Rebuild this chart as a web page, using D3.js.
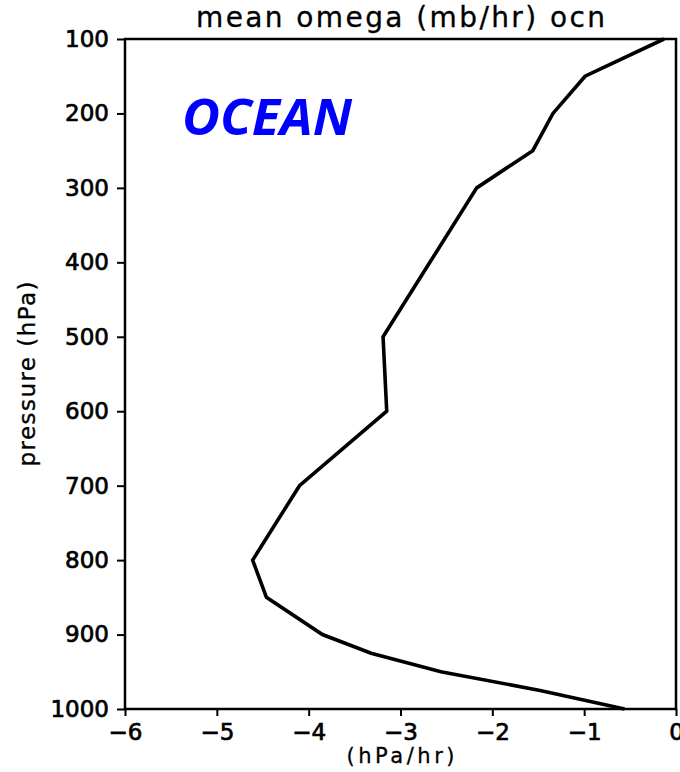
<!DOCTYPE html>
<html>
<head>
<meta charset="utf-8">
<script src="https://cdn.jsdelivr.net/npm/d3@7"></script>
<style>
  body { margin: 0; background: #fff; }
  svg { display: block; }
</style>
</head>
<body>
<div class="chart"></div>
<script>
// pressure levels (hPa) and mean omega (hPa/hr) over ocean
const levels = [100, 150, 200, 250, 300, 400, 500, 600, 700, 800, 850, 900, 925, 950, 975, 1000];
const omega = [-0.13, -0.99, -1.34, -1.56, -2.17, -2.68, -3.19, -3.15, -4.10, -4.61, -4.46, -3.85, -3.32, -2.56, -1.48, -0.56];

const xTicks = [-6, -5, -4, -3, -2, -1, 0];
const yTicks = [100, 200, 300, 400, 500, 600, 700, 800, 900, 1000];

const titleText = "mean omega (mb/hr) ocn";
const xLabel = "(hPa/hr)";
const yLabel = "pressure (hPa)";
const tagText = "OCEAN";

const w = 680, h = 772;
const margin = { top: 39, right: 4, bottom: 63, left: 125 };

const svg = d3.select(".chart").append("svg")
  .attr("width", w)
  .attr("height", h);

const x = d3.scaleLinear()
  .domain([-6, 0])
  .range([margin.left, w - margin.right]);

const y = d3.scaleLinear()
  .domain([100, 1000])
  .range([margin.top, h - margin.bottom]);

const data = levels.map((p, i) => ({ p: p, v: omega[i] }));

// axes
const yAxis = d3.axisLeft(y)
  .tickValues(yTicks)
  .tickSize(8)
  .tickSizeOuter(0)
  .tickPadding(8)
  .tickFormat(d3.format("d"));

const xAxis = d3.axisBottom(x)
  .tickValues(xTicks)
  .tickSize(7)
  .tickSizeOuter(0)
  .tickPadding(8)
  .tickFormat(d => d < 0 ? "\u2212" + Math.abs(d) : String(d));

const gy = svg.append("g")
  .attr("transform", `translate(${margin.left},0)`)
  .call(yAxis);

const gx = svg.append("g")
  .attr("transform", `translate(0,${h - margin.bottom})`)
  .call(xAxis);

[gx, gy].forEach(g => {
  g.select(".domain").remove();
  g.selectAll(".tick line").attr("stroke", "#000").attr("stroke-width", 2);
  g.selectAll(".tick text")
    .attr("fill", "#000")
    .attr("font-family", "DejaVu Sans, sans-serif")
    .attr("font-size", 23)
    .attr("stroke", "#000")
    .attr("stroke-width", 0.7);
});

// frame
svg.append("rect")
  .attr("x", x(-6))
  .attr("y", y(100))
  .attr("width", x(0) - x(-6))
  .attr("height", y(1000) - y(100))
  .attr("fill", "none")
  .attr("stroke", "#000")
  .attr("stroke-width", 2.5);

// profile line
const line = d3.line()
  .x(d => x(d.v))
  .y(d => y(d.p));

svg.append("path")
  .datum(data)
  .attr("d", line)
  .attr("fill", "none")
  .attr("stroke", "#000")
  .attr("stroke-width", 3.6)
  .attr("stroke-linejoin", "miter");

// title
svg.append("text")
  .attr("x", (x(-6) + x(0)) / 2)
  .attr("y", 27)
  .attr("text-anchor", "middle")
  .attr("font-family", "DejaVu Sans, sans-serif")
  .attr("font-size", 28)
  .attr("textLength", 409)
  .attr("lengthAdjust", "spacing")
  .attr("stroke", "#000")
  .attr("stroke-width", 0.3)
  .text(titleText);

// x label
svg.append("text")
  .attr("x", (x(-6) + x(0)) / 2)
  .attr("y", 763)
  .attr("text-anchor", "middle")
  .attr("font-family", "DejaVu Sans, sans-serif")
  .attr("font-size", 21)
  .attr("textLength", 108)
  .attr("lengthAdjust", "spacing")
  .attr("stroke", "#000")
  .attr("stroke-width", 0.3)
  .text(xLabel);

// y label
svg.append("text")
  .attr("transform", `translate(35,${(y(100) + y(1000)) / 2}) rotate(-90)`)
  .attr("text-anchor", "middle")
  .attr("font-family", "DejaVu Sans, sans-serif")
  .attr("font-size", 23)
  .attr("textLength", 185)
  .attr("lengthAdjust", "spacing")
  .attr("stroke", "#000")
  .attr("stroke-width", 0.3)
  .text(yLabel);

// region tag
svg.append("text")
  .attr("x", 182)
  .attr("y", 135)
  .attr("font-family", "Open Sans, sans-serif")
  .attr("font-weight", "bold")
  .attr("font-style", "italic")
  .attr("font-size", 51)
  .attr("textLength", 170)
  .attr("lengthAdjust", "spacingAndGlyphs")
  .attr("fill", "#0000ff")
  .text(tagText);
</script>
</body>
</html>
